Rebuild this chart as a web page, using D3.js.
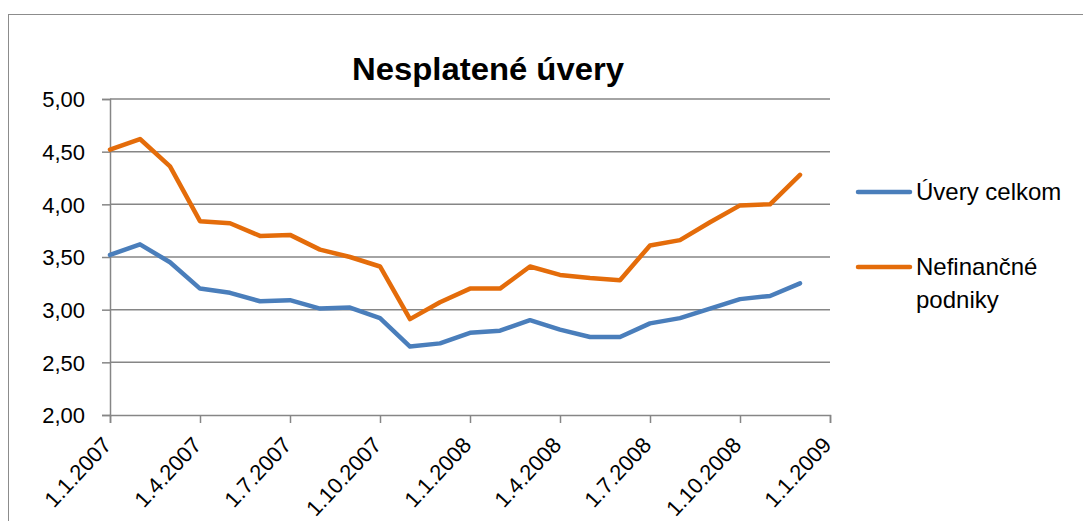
<!DOCTYPE html>
<html>
<head>
<meta charset="utf-8">
<script src="https://cdn.jsdelivr.net/npm/d3@7"></script>
<style>
  html, body { margin: 0; padding: 0; background: #fff; }
  svg { display: block; }
  text { font-family: "Liberation Sans", Arial, sans-serif; fill: #000; }
</style>
</head>
<body>
<svg id="chart" width="1083" height="521"></svg>
<script>
// ---- data ----
const months = ["1.1.2007","1.2.2007","1.3.2007","1.4.2007","1.5.2007","1.6.2007",
                "1.7.2007","1.8.2007","1.9.2007","1.10.2007","1.11.2007","1.12.2007",
                "1.1.2008","1.2.2008","1.3.2008","1.4.2008","1.5.2008","1.6.2008",
                "1.7.2008","1.8.2008","1.9.2008","1.10.2008","1.11.2008","1.12.2008"];
const uveryCelkom = [3.52,3.62,3.45,3.20,3.16,3.08,3.09,3.01,3.02,2.92,2.65,2.68,
                     2.78,2.80,2.90,2.81,2.74,2.74,2.87,2.92,3.01,3.10,3.13,3.25];
const nefinancne  = [4.52,4.62,4.36,3.84,3.82,3.70,3.71,3.57,3.50,3.41,2.91,3.07,
                     3.20,3.20,3.41,3.33,3.30,3.28,3.61,3.66,3.83,3.99,4.00,4.28];
const xTickLabels = ["1.1.2007","1.4.2007","1.7.2007","1.10.2007","1.1.2008",
                     "1.4.2008","1.7.2008","1.10.2008","1.1.2009"];
const yTicks = [2.0,2.5,3.0,3.5,4.0,4.5,5.0];
const seriesNames = ["Úvery celkom","Nefinančné podniky"];
const seriesColors = ["#4A7EBB","#E46C0A"];
const title = "Nesplatené úvery";

// ---- drawing ----
const svg = d3.select("#chart");
const gridColor = "#868686";

// outer chart border
svg.append("rect").attr("x", 8.5).attr("y", 14.5).attr("width", 1100).attr("height", 540)
  .attr("fill", "none").attr("stroke", "#8c8c8c").attr("stroke-width", 1);

const x = d3.scaleLinear().domain([0, 24]).range([110, 830]);
const y = d3.scaleLinear().domain([2, 5]).range([415, 99]);

// gridlines
svg.append("g").selectAll("line").data(yTicks.filter(d => d > 2)).join("line")
  .attr("x1", x(0)).attr("x2", x(24))
  .attr("y1", d => y(d)).attr("y2", d => y(d))
  .attr("stroke", gridColor).attr("stroke-width", 1.5);

// y axis
const yAxis = d3.axisLeft(y).tickValues(yTicks).tickSize(8).tickPadding(17)
  .tickFormat(d => d3.format(".2f")(d).replace(".", ","));
const gy = svg.append("g").attr("transform", `translate(${x(0)},0)`).call(yAxis);
gy.select(".domain").attr("stroke", gridColor).attr("stroke-width", 1.5);
gy.selectAll(".tick line").attr("stroke", gridColor).attr("stroke-width", 1.5);
gy.selectAll(".tick text").attr("font-size", 22).attr("font-family", "Liberation Sans, Arial, sans-serif")
  .attr("fill", "#000").attr("dy", "0.36em");

// x axis
const xTickVals = xTickLabels.map((d, i) => i * 3);
const xAxis = d3.axisBottom(x).tickValues(xTickVals).tickSize(8)
  .tickFormat((d, i) => xTickLabels[i]);
const gx = svg.append("g").attr("transform", `translate(0,${y(2)})`).call(xAxis);
gx.select(".domain").attr("stroke", gridColor).attr("stroke-width", 1.5);
gx.selectAll(".tick line").attr("stroke", gridColor).attr("stroke-width", 1.5);
gx.selectAll(".tick text")
  .attr("font-size", 22).attr("font-family", "Liberation Sans, Arial, sans-serif").attr("fill", "#000")
  .attr("text-anchor", "end").attr("dy", null).attr("y", 0)
  .attr("transform", "translate(2,31) rotate(-47)");

// lines
const line = d3.line().x((d, i) => x(i)).y(d => y(d));
[uveryCelkom, nefinancne].forEach((s, k) => {
  svg.append("path").datum(s).attr("d", line)
    .attr("fill", "none").attr("stroke", seriesColors[k]).attr("stroke-width", 4.5)
    .attr("stroke-linejoin", "round").attr("stroke-linecap", "round");
});

// title
svg.append("text").attr("x", 488).attr("y", 80).attr("text-anchor", "middle")
  .attr("font-size", 31).attr("font-weight", "bold")
  .attr("textLength", 272).attr("lengthAdjust", "spacingAndGlyphs").text(title);

// legend
const legY = [192, 267];
seriesNames.forEach((name, k) => {
  const g = svg.append("g");
  g.append("line").attr("x1", 858).attr("x2", 910).attr("y1", legY[k]).attr("y2", legY[k])
    .attr("stroke", seriesColors[k]).attr("stroke-width", 4.5).attr("stroke-linecap", "round");
  const words = k === 1 ? ["Nefinančné", "podniky"] : [name];
  const t = g.append("text").attr("x", 916).attr("y", legY[k] + 8).attr("font-size", 24);
  words.forEach((w, j) => t.append("tspan").attr("x", 916).attr("dy", j === 0 ? 0 : 33).text(w));
});
</script>
</body>
</html>
